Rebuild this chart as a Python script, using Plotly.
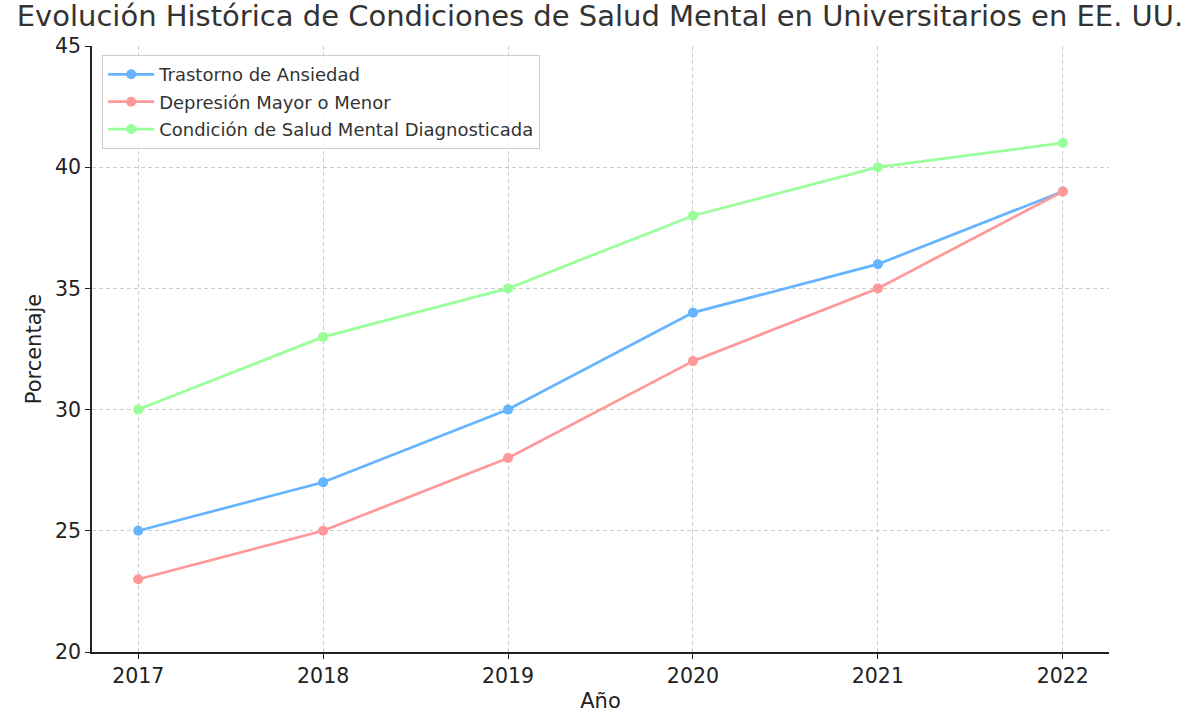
import plotly.graph_objects as go

years = [2017, 2018, 2019, 2020, 2021, 2022]
ansiedad = [25, 27, 30, 34, 36, 39]
depresion = [23, 25, 28, 32, 35, 39]
diagnosticada = [30, 33, 35, 38, 40, 41]

series = [
    ("Trastorno de Ansiedad", ansiedad, "#66b3ff"),
    ("Depresión Mayor o Menor", depresion, "#ff9999"),
    ("Condición de Salud Mental Diagnosticada", diagnosticada, "#99ff99"),
]

fig = go.Figure()
for i, (name, vals, col) in enumerate(series):
    fig.add_trace(go.Scatter(
        x=years, y=vals, name=name, mode="lines+markers",
        legendgroup=f"g{i}",
        line=dict(color=col, width=2.7),
        marker=dict(color=col, size=10),
    ))

font = "DejaVu Sans"
fig.update_layout(
    width=1200, height=722,
    margin=dict(l=92, r=91, t=46, b=70),
    paper_bgcolor="white", plot_bgcolor="white",
    font=dict(family=font, color="#333333"),
    title=dict(text="Evolución Histórica de Condiciones de Salud Mental en Universitarios en EE. UU.",
               x=0.5, xanchor="center", y=0.978, yanchor="middle",
               font=dict(size=29, family=font, color="#333333")),
    showlegend=True,
    legend=dict(x=0.01, y=0.985, xanchor="left", yanchor="top",
                bgcolor="rgba(255,255,255,0.8)", bordercolor="#cccccc", borderwidth=1,
                font=dict(size=18, family=font, color="#333333"),
                tracegroupgap=1, itemwidth=46),
    xaxis=dict(range=[2016.75, 2022.25], tickmode="array", tickvals=years,
               ticktext=[str(y) for y in years],
               showgrid=True, gridcolor="#cccccc", griddash="4px,3px", gridwidth=1,
               showline=True, linecolor="#222222", linewidth=1.5,
               ticks="outside", ticklen=5, tickcolor="#222222",
               tickfont=dict(size=20.5, family=font, color="#222222"),
               title=dict(text="Año", font=dict(size=21, family=font, color="#222222"), standoff=6),
               zeroline=False),
    yaxis=dict(range=[20, 45], tickmode="array", tickvals=[20, 25, 30, 35, 40, 45],
               showgrid=True, gridcolor="#cccccc", griddash="4px,3px", gridwidth=1,
               showline=True, linecolor="#222222", linewidth=1.5,
               ticks="outside", ticklen=5, tickcolor="#222222",
               tickfont=dict(size=20.5, family=font, color="#222222"),
               title=dict(text="Porcentaje", font=dict(size=21, family=font, color="#222222"), standoff=8),
               zeroline=False),
)

fig.write_html("out.html")
